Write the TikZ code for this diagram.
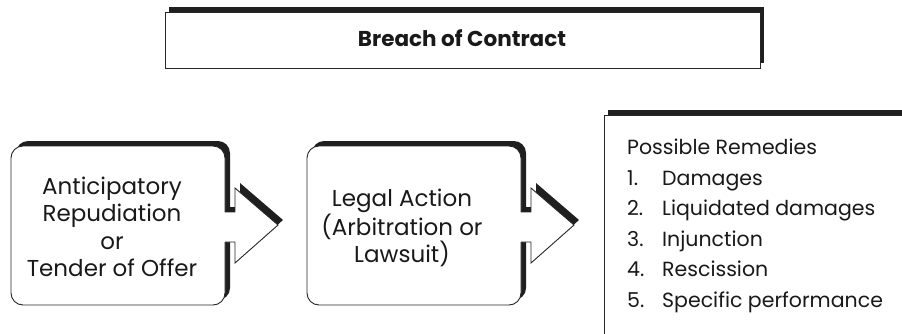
\documentclass[tikz,border=0pt]{standalone}
\usepackage{fontspec}
\setmainfont{Poppins}
\usetikzlibrary{positioning}
\tikzset{
    shadowfill/.style = {fill=black!88},
    panelfill/.style = {fill=white},
    panelline/.style = {draw=black!85,line width=0.9pt},
    boxtext/.style = {align=center,text=black!90,font=\fontsize{23}{27.5}\selectfont},
    titletext/.style = {text=black!90,font=\fontsize{21.5}{24}\selectfont\bfseries},
    listtext/.style = {align=left,inner sep=0pt,text=black!90,font=\fontsize{20.5}{30.5}\selectfont},
}
\newcommand{\itemno}[1]{\makebox[35pt][l]{#1}}

\begin{document}
\begin{tikzpicture}[x=1pt,y=-1pt]
\clip (0,0) rectangle (902,333);
%
% title box
\fill[shadowfill] (169,7) rectangle (764,63);
\path[panelfill,panelline] (165,12) rectangle (760,68);
\node[titletext] at (462,38) (breach) {Breach of Contract};
%
% first box with arrow
\begin{scope}[xshift=5pt,yshift=5pt]
\fill[shadowfill,rounded corners=12pt] (11,146) rectangle (225,305);
\fill[shadowfill] (224,212) -- (235,212) -- (235,188) -- (278,225) -- (235,263) -- (235,242) -- (224,242) -- cycle;
\end{scope}
\fill[panelfill,rounded corners=12pt] (11,146) rectangle (225,305);
\fill[panelfill] (224,212) -- (235,212) -- (235,188) -- (278,225) -- (235,263) -- (235,242) -- (224,242) -- cycle;
\draw[panelline,rounded corners=12pt] (225,242) -- (225,305) -- (11,305) -- (11,146) -- (225,146) -- (225,212);
\draw[panelline] (225,212) -- (235,212) -- (235,188) -- (278,225) -- (235,263) -- (235,242) -- (225,242);
\node[boxtext] at (112,227) (repud) {Anticipatory\\Repudiation\\or\\Tender of Offer};
%
% second box with arrow
\begin{scope}[xshift=296pt]
\begin{scope}[xshift=5pt,yshift=5pt]
\fill[shadowfill,rounded corners=12pt] (11,146) rectangle (225,305);
\fill[shadowfill] (224,212) -- (235,212) -- (235,188) -- (278,225) -- (235,263) -- (235,242) -- (224,242) -- cycle;
\end{scope}
\fill[panelfill,rounded corners=12pt] (11,146) rectangle (225,305);
\fill[panelfill] (224,212) -- (235,212) -- (235,188) -- (278,225) -- (235,263) -- (235,242) -- (224,242) -- cycle;
\draw[panelline,rounded corners=12pt] (225,242) -- (225,305) -- (11,305) -- (11,146) -- (225,146) -- (225,212);
\draw[panelline] (225,212) -- (235,212) -- (235,188) -- (278,225) -- (235,263) -- (235,242) -- (225,242);
\end{scope}
\node[boxtext,font=\fontsize{23}{25.5}\selectfont] at (402,228) (legal) {Legal Action\\(Arbitration or\\Lawsuit)};
%
% remedies box
\fill[shadowfill] (608,110) rectangle (910,340);
\path[panelfill,panelline] (604,115) rectangle (910,340);
\node[listtext,anchor=north west] at (627,139) (remedies) {Possible Remedies\\\itemno{1.}Damages\\\itemno{2.}Liquidated damages\\\itemno{3.}Injunction\\\itemno{4.}Rescission\\\itemno{5.}Specific performance};

\end{tikzpicture}
\end{document}
